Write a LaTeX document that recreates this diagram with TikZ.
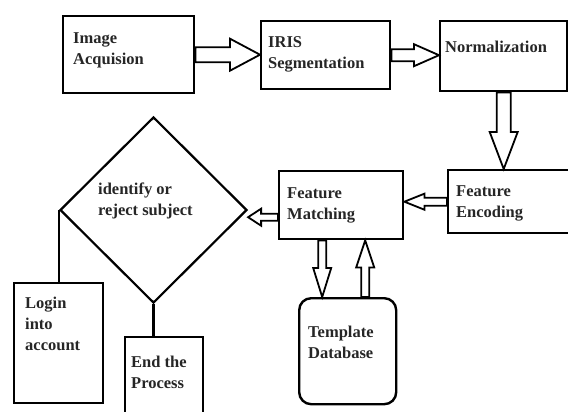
\documentclass[tikz,border=0pt]{standalone}
\usepackage{fontspec}
\setmainfont{Liberation Serif}
\usetikzlibrary{shapes.geometric,calc,backgrounds}

\tikzset{
  box/.style={draw=black, line width=2.4pt, rectangle, inner sep=0pt, anchor=north west},
  txt/.style={anchor=north west, inner sep=0pt, align=left,
    font=\fontsize{16.5}{21}\selectfont\bfseries, text=black!85},
  barrow/.style={draw=black, line width=1.8pt, fill=white, line join=miter},
  link/.style={draw=black, line width=2.4pt},
}

% horizontal block arrow: start, end, shaft half width, head half width, head length
\newcommand\harr[5]{\draw[barrow] let \p1=(#1),\p2=(#2),\n1={(\x2>\x1)?#5:-#5} in
  (\x1,\y1+#3) -- (\x2-\n1,\y1+#3) -- (\x2-\n1,\y1+#4) -- (\x2,\y1) --
  (\x2-\n1,\y1-#4) -- (\x2-\n1,\y1-#3) -- (\x1,\y1-#3) -- cycle;}
% vertical block arrow
\newcommand\varr[5]{\draw[barrow] let \p1=(#1),\p2=(#2),\n1={(\y2>\y1)?#5:-#5} in
  (\x1+#3,\y1) -- (\x1+#3,\y2-\n1) -- (\x1+#4,\y2-\n1) -- (\x1,\y2) --
  (\x1-#4,\y2-\n1) -- (\x1-#3,\y2-\n1) -- (\x1-#3,\y1) -- cycle;}

\begin{document}
\begin{tikzpicture}[x=1pt,y=-1pt]
\useasboundingbox (0,0) rectangle (568,412);
\clip (0,0) rectangle (568,412);

% boxes
\node[box, minimum width=131pt, minimum height=77pt] (ia) at (62,15) {};
\node[box, minimum width=129pt, minimum height=68pt] (seg) at (260,20) {};
\node[box, minimum width=127pt, minimum height=70pt] (norm) at (439,20) {};
\node[box, minimum width=130pt, minimum height=63pt] (fe) at (447,169) {};
\node[box, minimum width=124pt, minimum height=68pt] (fm) at (278,170) {};
\node[box, rounded corners=12pt, minimum width=97pt, minimum height=106pt] (td) at (298,297) {};
\node[diamond, draw=black, line width=2.2pt, minimum width=187pt, minimum height=186pt,
      inner sep=0pt, aspect=1] (dia) at (153.5,210) {};
\node[box, minimum width=89pt, minimum height=120pt] (login) at (13,282) {};
\node[box, minimum width=78pt, minimum height=90pt] (end) at (124,336) {};

% texts
\node[txt] (ia-t) at (73,32.8) {Image\\Acquision};
\node[txt] (seg-t) at (268,36.8) {IRIS\\Segmentation};
\node[txt] (norm-t) at (445,40.8) {Normalization};
\node[txt] (fe-t) at (456,185.8) {Feature\\Encoding};
\node[txt] (fm-t) at (287,187.8) {Feature\\Matching};
\node[txt] (dia-t) at (98,182.8) {identify or\\reject subject};
\node[txt] (login-t) at (25,296.8) {Login\\into\\account};
\node[txt] (end-t) at (131,355.8) {End the\\Process};
\node[txt] (td-t) at (308,325.8) {Template\\Database};

% plain links
\draw[link] (dia.west) -- (dia.west |- login.north);
\draw[link] (dia.south) -- (dia.south |- end.north);

% block arrows
\coordinate (fmout) at ([yshift=-12pt]fm.west);
\coordinate (fmdown) at ([xshift=-19pt]fm.south);
\coordinate (tdup) at ([xshift=17.5pt]td.north);
\begin{scope}[on background layer]
\harr{ia.east}{seg.west |- ia.east}{7.5pt}{16pt}{30pt}
\harr{seg.east}{norm.west |- seg.east}{6pt}{11pt}{25pt}
\varr{norm.south}{norm.south |- fe.north}{7pt}{14pt}{37pt}
\harr{fe.west}{fm.east |- fe.west}{4pt}{8pt}{20pt}
\harr{fmout}{dia.east |- fmout}{3.5pt}{8.5pt}{13pt}
\varr{fmdown}{fmdown |- td.north}{4pt}{9pt}{29pt}
\varr{tdup}{tdup |- fm.south}{4pt}{9pt}{27pt}
\end{scope}
\end{tikzpicture}
\end{document}
